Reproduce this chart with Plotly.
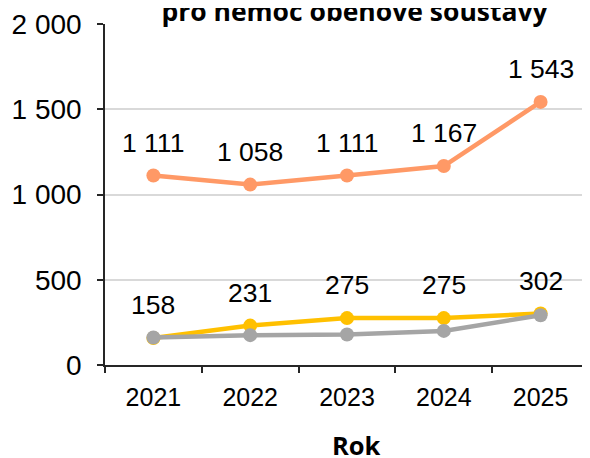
import plotly.graph_objects as go

years = ["2021", "2022", "2023", "2024", "2025"]
orange_vals = [1111, 1058, 1111, 1167, 1543]
yellow_vals = [158, 231, 275, 275, 302]
gray_vals = [161, 175, 179, 200, 292]
y_ticks = [0, 500, 1000, 1500, 2000]
title_text = "pro nemoc oběhové soustavy"
x_title = "Rok"

ORANGE = "#FF9966"
YELLOW = "#FFC000"
GRAY = "#A5A5A5"
SANS = "Arial"


def fmt(v):
    return f"{v:,}".replace(",", " ")


fig = go.Figure()
for vals, col in [(orange_vals, ORANGE), (yellow_vals, YELLOW), (gray_vals, GRAY)]:
    fig.add_trace(go.Scatter(
        x=years, y=vals, mode="lines+markers",
        line=dict(color=col, width=4.5),
        marker=dict(color=col, size=14),
        hoverinfo="x+y", showlegend=False,
    ))

annotations = []
for vals in (orange_vals, yellow_vals):
    for i, v in enumerate(vals):
        annotations.append(dict(
            x=i, y=v, xref="x", yref="y", text=fmt(v), showarrow=False,
            yshift=33, font=dict(family=SANS, size=26.5, color="#000000"),
        ))

annotations.append(dict(
    x=0.5165, y=1, xref="paper", yref="paper", xanchor="center", yanchor="bottom",
    yshift=-6, text=f"<b>{title_text}</b>", showarrow=False, width=444,
    bgcolor="white", borderpad=0,
    font=dict(family="Open Sans", size=26.5, color="#000000"),
))
annotations.append(dict(
    x=0.52, y=0, xref="paper", yref="paper", xanchor="center", yanchor="middle",
    yshift=-80, text=f"<b>{x_title}</b>", showarrow=False,
    font=dict(family="Open Sans", size=25.5, color="#000000"),
))

fig.update_layout(
    width=582, height=450,
    margin=dict(l=97, r=1, t=14, b=93),
    paper_bgcolor="white", plot_bgcolor="white",
    separators=", ",
    annotations=annotations,
    font=dict(family=SANS, size=25, color="#000000"),
    xaxis=dict(
        type="category", range=[-0.5, 4.5], tickson="boundaries",
        ticks="outside", ticklen=6, tickcolor="#262626", tickwidth=1.5,
        showline=True, linecolor="#262626", linewidth=1.5,
        showgrid=False, ticklabelstandoff=9,
        tickfont=dict(family=SANS, size=25),
    ),
    yaxis=dict(
        range=[0, 2000], tickvals=y_ticks, tickformat=",d",
        ticks="outside", ticklen=6, tickcolor="#262626", tickwidth=1.5,
        showline=True, linecolor="#262626", linewidth=1.5,
        showgrid=True, gridcolor="#D9D9D9", gridwidth=1.5,
        zeroline=False, ticklabelstandoff=10, ticklabeloverflow="allow",
        tickfont=dict(family=SANS, size=28),
    ),
)

fig.write_html("out.html")
